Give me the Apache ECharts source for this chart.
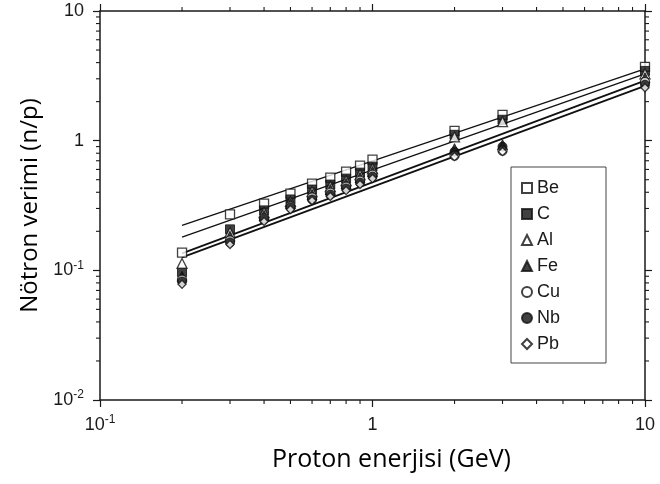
<!DOCTYPE html>
<html><head><meta charset="utf-8">
<script src="https://cdn.jsdelivr.net/npm/echarts@6/dist/echarts.min.js"></script>
<style>html,body{margin:0;padding:0;background:#fff}#c{width:660px;height:484px}</style>
</head><body><div id="c"></div>
<script>
// Proton energy (GeV)
const energy = [0.2, 0.3, 0.4, 0.5, 0.6, 0.7, 0.8, 0.9, 1, 2, 3, 10];
// Neutron yield (n/p) per target
const yBe = [0.137, 0.27, 0.327, 0.391, 0.467, 0.519, 0.578, 0.642, 0.714, 1.19, 1.58, 3.71];
const yC  = [0.097, 0.207, 0.29, 0.352, 0.42, 0.459, 0.51, 0.567, 0.631, 1.11, 1.45, 3.45];
const yAl = [0.113, 0.196, 0.279, 0.34, 0.405, 0.443, 0.492, 0.548, 0.609, 1.07, 1.40, 3.28];
const yFe = [0.090, 0.183, 0.265, 0.327, 0.384, 0.42, 0.467, 0.519, 0.578, 0.868, 0.93, 3.05];
const yCu = [0.085, 0.17, 0.251, 0.311, 0.365, 0.398, 0.443, 0.492, 0.548, 0.767, 0.838, 2.84];
const yNb = [0.082, 0.164, 0.247, 0.305, 0.352, 0.384, 0.428, 0.475, 0.529, 0.823, 0.90, 2.70];
const yPb = [0.078, 0.158, 0.238, 0.294, 0.345, 0.371, 0.412, 0.459, 0.51, 0.753, 0.823, 2.56];
// Fit lines (end points)
const fitX = [0.2, 10];
const fit1 = [0.222, 3.58];
const fit2 = [0.18, 3.28];
const fit3 = [0.135, 2.9];
const fit4 = [0.126, 2.65];
// Axis ranges and minor-tick multipliers
const xRange = [0.1, 10];
const yRange = [0.01, 10];
const minorMult = [2, 3, 4, 5, 6, 7, 8, 9];

const names = ['Be', 'C', 'Al', 'Fe', 'Cu', 'Nb', 'Pb'];
const values = [yBe, yC, yAl, yFe, yCu, yNb, yPb];
const symbols = ['rect', 'rect', 'triangle', 'triangle', 'circle', 'circle', 'diamond'];
const filled = [false, true, false, true, false, true, false];
const sizes = [9, 9, 10, 10, 9, 9, 8];

function minorVals(range) {
  const out = [];
  const e0 = Math.round(Math.log10(range[0])), e1 = Math.round(Math.log10(range[1]));
  for (let e = e0; e < e1; e++) minorMult.forEach(m => out.push(m * Math.pow(10, e)));
  return out;
}
function powLabel(v) {
  const e = Math.round(Math.log10(v));
  if (e >= 0) return String(Math.round(Math.pow(10, e)));
  return '10{s|' + e + '}';
}
const INK = '#1a1a1a';
const labelBase = {fontSize: 18, fontFamily: 'Liberation Sans', color: INK, lineHeight: 22};
const rich = {
  s: {fontSize: 12, fontFamily: 'Liberation Sans', color: INK, lineHeight: 12, verticalAlign: 'top'}
};
const lineStyle = {color: INK, width: 1.5};
const TL = 4;

function labelCfg(margin) {
  return Object.assign({show: true, formatter: powLabel, rich: rich, margin: margin, showMinLabel: true, showMaxLabel: true}, labelBase);
}
function logAxis(pos, range, withLabels, extra) {
  return Object.assign({
    type: 'log', logBase: 10, min: range[0], max: range[1], position: pos,
    axisLine: {show: true, onZero: false, lineStyle: lineStyle},
    axisTick: {show: true, inside: false, length: 7, lineStyle: {color: INK, width: 1.2}},
    axisLabel: withLabels ? labelCfg(14) : {show: false},
    splitLine: {show: false}, minorTick: {show: false}
  }, extra || {});
}

const series = [];
[[fit1, 1.3], [fit2, 1.3], [fit3, 1.8], [fit4, 1.8]].forEach(([f, w]) => {
  series.push({
    type: 'line', xAxisIndex: 0, yAxisIndex: 0, silent: true, showSymbol: false, z: 2,
    data: fitX.map((x, i) => [x, f[i]]),
    lineStyle: {color: '#111', width: w}
  });
});
names.forEach((n, k) => {
  series.push({
    name: n, type: 'scatter', xAxisIndex: 0, yAxisIndex: 0, z: 3,
    symbol: symbols[k], symbolSize: sizes[k],
    data: energy.map((x, i) => [x, values[k][i]]),
    itemStyle: filled[k] ? {color: '#111', borderColor: '#111', borderWidth: 1} : {color: '#fff', borderColor: '#111', borderWidth: 1.3}
  });
});
// minor ticks on all four sides, positioned through the axes' log scales
const tickStyle = {stroke: INK, lineWidth: 1.1};
series.push({
  type: 'custom', xAxisIndex: 0, yAxisIndex: 0, silent: true, clip: false, z: 1,
  data: minorVals(xRange).map(v => [v]),
  renderItem: function (params, api) {
    const cs = params.coordSys;
    const x = api.coord([api.value(0), yRange[0]])[0];
    const b = cs.y + cs.height, t = cs.y;
    return {type: 'group', children: [
      {type: 'line', shape: {x1: x, y1: b, x2: x, y2: b + TL}, style: tickStyle},
      {type: 'line', shape: {x1: x, y1: t, x2: x, y2: t - TL}, style: tickStyle}
    ]};
  }
});
series.push({
  type: 'custom', xAxisIndex: 0, yAxisIndex: 0, silent: true, clip: false, z: 1,
  data: minorVals(yRange).map(v => [xRange[0], v]),
  encode: {x: 0, y: 1},
  renderItem: function (params, api) {
    const cs = params.coordSys;
    const y = api.coord([xRange[0], api.value(1)])[1];
    const l = cs.x, r = cs.x + cs.width;
    return {type: 'group', children: [
      {type: 'line', shape: {x1: l, y1: y, x2: l - TL, y2: y}, style: tickStyle},
      {type: 'line', shape: {x1: r, y1: y, x2: r + TL, y2: y}, style: tickStyle}
    ]};
  }
});

const chart = echarts.init(document.getElementById('c'));
chart.setOption({
  animation: false,
  backgroundColor: '#fff',
  grid: {left: 100, right: 15, top: 10, bottom: 84, containLabel: false},
  xAxis: [
    logAxis('bottom', xRange, true, {
      name: 'Proton enerjisi (GeV)', nameLocation: 'middle', nameGap: 47,
      nameTextStyle: {fontFamily: 'Open Sans', fontSize: 25, color: '#000', padding: [0, 0, 0, 38]}
    }),
    logAxis('top', xRange, false)
  ],
  yAxis: [
    logAxis('left', yRange, true, {
      name: 'Nötron verimi (n/p)', nameLocation: 'middle', nameGap: 56,
      nameTextStyle: {fontFamily: 'Open Sans', fontSize: 24, color: '#000'},
      axisLabel: labelCfg(16)
    }),
    logAxis('right', yRange, false)
  ],
  legend: {
    orient: 'vertical', left: 511, top: 167, data: names,
    itemWidth: 10, itemHeight: 10, itemGap: 8,
    padding: [12, 46, 10, 10], borderColor: '#444', borderWidth: 1,
    selectedMode: false,
    textStyle: {fontSize: 18, fontFamily: 'Liberation Sans', color: INK}
  },
  series: series
});
</script>
</body></html>
